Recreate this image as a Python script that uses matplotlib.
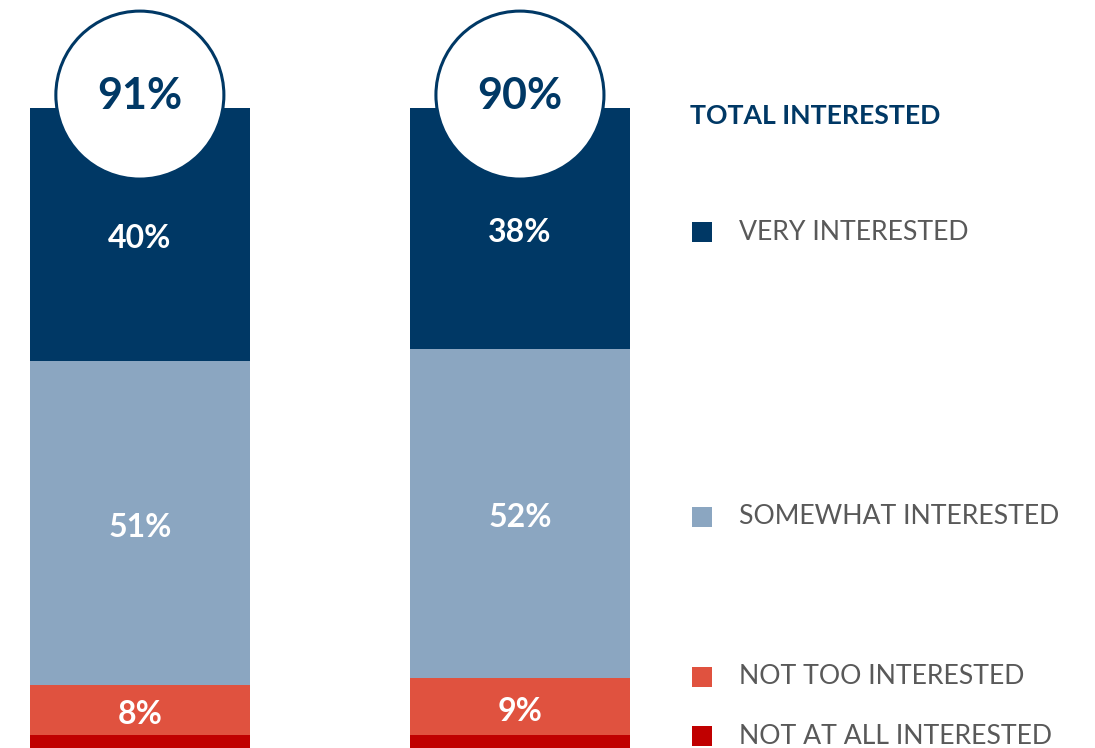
import matplotlib
matplotlib.use("Agg")
import matplotlib.pyplot as plt
from matplotlib.patches import Ellipse, Rectangle
import numpy as np

plt.rcParams['font.family'] = ['Lato', 'DejaVu Sans']

groups = ["Group 1", "Group 2"]
series = ["NOT AT ALL INTERESTED", "NOT TOO INTERESTED", "SOMEWHAT INTERESTED", "VERY INTERESTED"]
not_at_all = [2, 2]
not_too = [8, 9]
somewhat = [51, 52]
very = [40, 38]
total_interested = ["91%", "90%"]
colors = ["#C00000", "#E0523F", "#8BA6C1", "#003865"]

fig = plt.figure(figsize=(10.95, 7.48), dpi=100)
ax = fig.add_axes([0, 0, 1, 1])
ax.set_xlim(-0.368, 2.513)
ax.set_ylim(0, 118)
ax.axis('off')

x = np.arange(len(groups))
width = 0.579
bottom = np.zeros(len(groups))
data = [not_at_all, not_too, somewhat, very]
for vals, col, name in zip(data, colors, series):
    vals = np.array(vals, dtype=float)
    ax.bar(x, vals, width, bottom=bottom, color=col, linewidth=0)
    if name != "NOT AT ALL INTERESTED":
        for xi, b, v in zip(x, bottom, vals):
            ax.text(xi, b + v / 2 - 0.7, f"{int(v)}%", ha='center', va='center',
                    color='white', fontsize=23, fontweight='bold')
    bottom = bottom + vals

# circles with total interested
for xi, top, lab in zip(x, bottom, total_interested):
    cy = top + 2.0
    e = Ellipse((xi, cy), width=168 / 380, height=168 / 6.34, facecolor='white',
                edgecolor='#003865', linewidth=2.2, zorder=5)
    ax.add_patch(e)
    ax.text(xi, cy - 0.1, lab, ha='center', va='center', color='#003865',
            fontsize=31, fontweight='bold', zorder=6)

# legend
W, H = 1095, 748
fig.text(690 / W, 1 - 116 / H, "TOTAL INTERESTED", ha='left', va='center',
         color='#003865', fontsize=19.2, fontweight='bold')
leg_y = {"VERY INTERESTED": 232, "SOMEWHAT INTERESTED": 517,
         "NOT TOO INTERESTED": 677, "NOT AT ALL INTERESTED": 736}
for name, col in zip(series, colors):
    yy = leg_y[name]
    fig.patches.append(Rectangle((692 / W, 1 - (yy + 10) / H), 20 / W, 20 / H,
                                 transform=fig.transFigure, facecolor=col,
                                 edgecolor='none'))
    fig.text(739 / W, 1 - yy / H, name, ha='left', va='center',
             color='#595959', fontsize=19.2)

fig.savefig("out.png", dpi=100)
